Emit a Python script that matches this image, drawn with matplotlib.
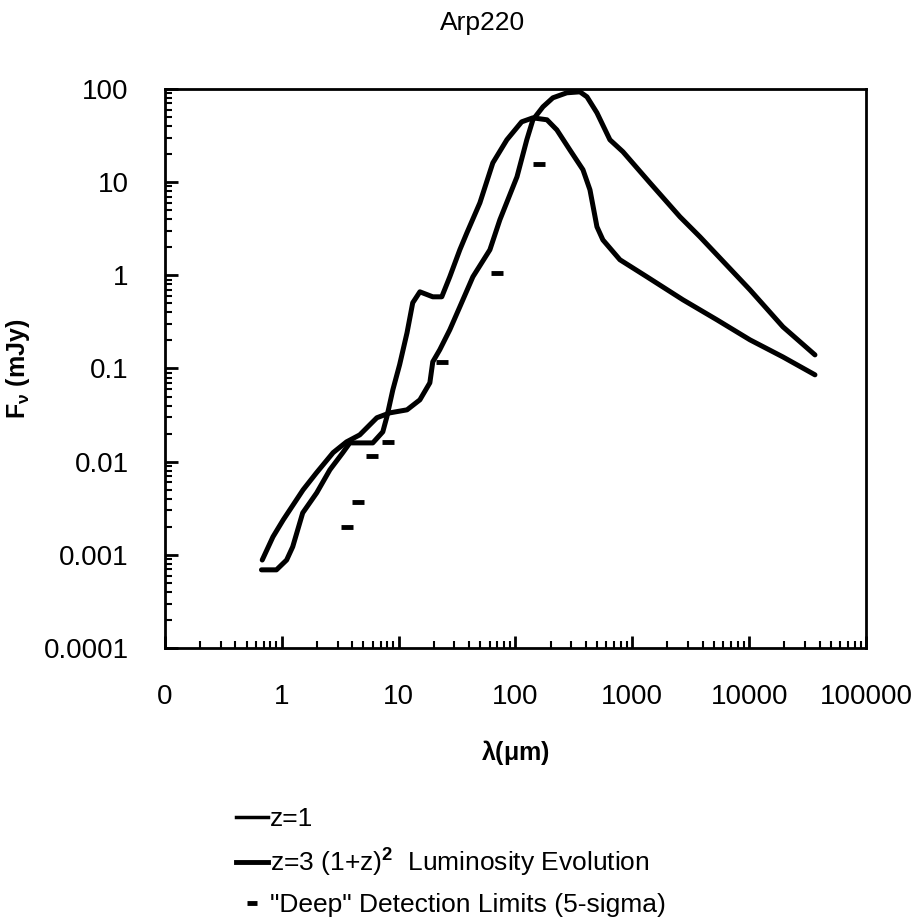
import matplotlib
matplotlib.use('Agg')
import matplotlib.pyplot as plt
from matplotlib.lines import Line2D
from matplotlib.ticker import LogLocator, FixedLocator, FixedFormatter, NullFormatter

plt.rcParams['font.family'] = ['Liberation Sans', 'DejaVu Sans']
plt.rcParams['mathtext.fontset'] = 'custom'
plt.rcParams['mathtext.rm'] = 'Liberation Sans'
plt.rcParams['mathtext.bf'] = 'Liberation Sans:bold'

# ========================================================================================
# donnees

lam_z1 = [0.67, 0.90, 1.10, 1.24, 1.51, 1.99, 2.58, 3.33, 3.82, 6.01,
          7.32, 7.93, 8.92, 10.2, 11.8, 13.2, 15.2, 19.6, 23.4, 27.4,
          33.4, 38.4, 49.6, 64.0, 84.4, 113, 141, 186, 226, 292,
          378, 434, 498, 560, 783, 1334, 2712, 5300, 10160, 19460, 36570]
flux_z1 = [0.00069, 0.00069, 0.00088, 0.00122, 0.00282, 0.00463, 0.00818, 0.0125, 0.0159, 0.0159,
           0.0209, 0.0303, 0.059, 0.110, 0.242, 0.507, 0.665, 0.588, 0.588, 0.964,
           1.88, 2.86, 6.0, 16.1, 28.5, 44.4, 49.0, 46.7, 36.4, 22.2,
           13.6, 8.27, 3.32, 2.40, 1.47, 0.964, 0.546, 0.333, 0.203, 0.133, 0.0855]

lam_z3 = [0.68, 0.84, 1.03, 1.52, 1.98, 2.75, 3.58, 4.65, 5.67, 6.51,
          8.41, 11.8, 15.2, 18.5, 19.6, 22.5, 27.4, 33.4, 43.2, 60.4,
          73.5, 103, 125, 141, 172, 209, 275, 356, 409, 498,
          643, 831, 1415, 2556, 3792, 10160, 19460, 36570]
flux_z3 = [0.00088, 0.00156, 0.00238, 0.00498, 0.00759, 0.0125, 0.0163, 0.0194, 0.0249, 0.0296,
           0.0334, 0.036, 0.0461, 0.0702, 0.118, 0.159, 0.26, 0.459, 0.964, 1.88,
           3.94, 11.4, 28.5, 46.7, 64.4, 80.4, 91.0, 93.2, 82.4, 55.5,
           28.5, 21.2, 9.84, 4.25, 2.59, 0.699, 0.28, 0.140]

lam_lim = [3.58, 4.47, 5.86, 8.13, 23.3, 68.9, 160]
flux_lim = [0.0020, 0.0037, 0.0114, 0.0164, 0.117, 1.06, 15.7]

x_ticks = [0.1, 1, 10, 100, 1000, 10000, 100000]
x_tick_labels = ["0", "1", "10", "100", "1000", "10000", "100000"]
y_ticks = [0.0001, 0.001, 0.01, 0.1, 1, 10, 100]
y_tick_labels = ["0.0001", "0.001", "0.01", "0.1", "1", "10", "100"]

# ========================================================================================

fig = plt.figure(figsize=(9.2, 9.24), dpi=100)
ax = fig.add_axes([0.1793, 0.2987, 0.762, 0.605])

ax.plot(lam_z1, flux_z1, color="black", lw=3.6, solid_capstyle="round", solid_joinstyle="round")
ax.plot(lam_z3, flux_z3, color="black", lw=3.6, solid_capstyle="round", solid_joinstyle="round")
ax.plot(lam_lim, flux_lim, ls="none", marker="_", color="black", markersize=8, markeredgewidth=3.5)

ax.set_xscale("log")
ax.set_yscale("log")
ax.set_xlim(0.1, 100000)
ax.set_ylim(0.0001, 100)

ax.xaxis.set_major_locator(FixedLocator(x_ticks))
ax.xaxis.set_major_formatter(FixedFormatter(x_tick_labels))
ax.yaxis.set_major_locator(FixedLocator(y_ticks))
ax.yaxis.set_major_formatter(FixedFormatter(y_tick_labels))
ax.xaxis.set_minor_locator(LogLocator(base=10, subs=range(2, 10), numticks=20))
ax.yaxis.set_minor_locator(LogLocator(base=10, subs=range(2, 10), numticks=20))
ax.xaxis.set_minor_formatter(NullFormatter())
ax.yaxis.set_minor_formatter(NullFormatter())

ax.tick_params(which="major", direction="in", length=9, width=2, labelsize=20, colors="black")
ax.tick_params(which="minor", direction="in", length=5, width=1.5)
ax.tick_params(axis="x", which="major", pad=26)
ax.tick_params(axis="y", which="major", pad=26)

for spine in ax.spines.values():
    spine.set_linewidth(2)

fig.text(0.525, 0.975, "Arp220", fontsize=19, ha="center", va="center")
ax.set_xlabel(r"$\mathbf{\lambda}$(μm)", fontsize=18, fontweight="bold", labelpad=20)
ax.set_ylabel(r"F$_\mathbf{\nu}$ (mJy)", fontsize=18, fontweight="bold")
ax.yaxis.set_label_coords(-0.19, 0.5)

handles = [
    Line2D([], [], color="black", lw=2.5),
    Line2D([], [], color="black", lw=3.5),
    Line2D([], [], ls="none", marker="_", color="black", markersize=7, markeredgewidth=3.5),
]
labels = [
    "z=1",
    r"z=3 (1+z)$^\mathbf{2}$  Luminosity Evolution",
    '"Deep" Detection Limits (5-sigma)',
]
fig.legend(handles, labels, loc="upper left", bbox_to_anchor=(0.245, 0.138),
           frameon=False, fontsize=19, handlelength=1.2, handletextpad=0.1,
           labelspacing=0.55, borderaxespad=0)

plt.savefig("out.png", dpi=100)
